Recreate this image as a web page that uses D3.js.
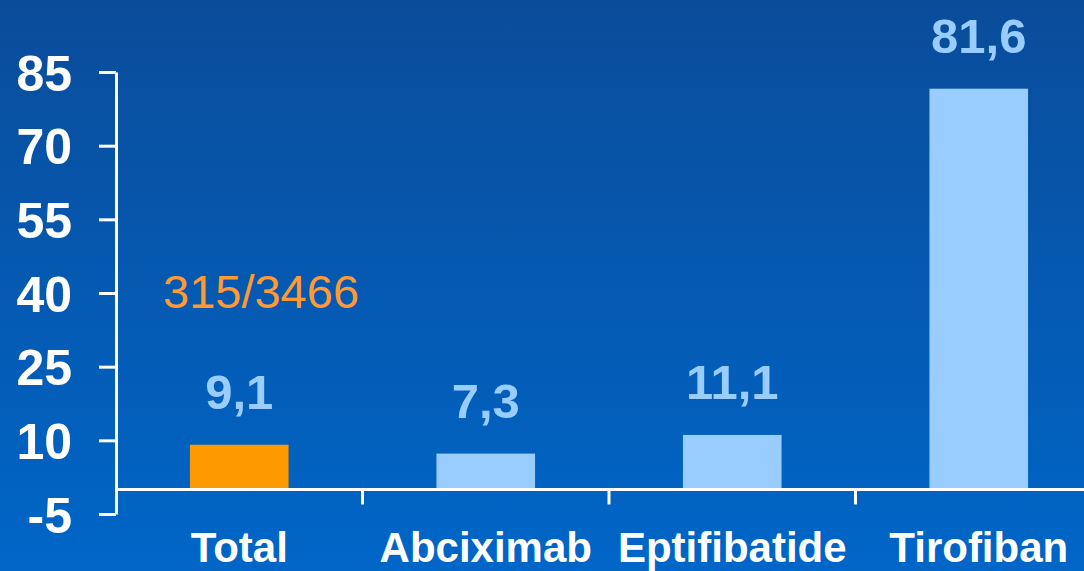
<!DOCTYPE html>
<html>
<head>
<meta charset="utf-8">
<script src="https://cdn.jsdelivr.net/npm/d3@7"></script>
<style>
  html, body { margin: 0; padding: 0; overflow: hidden; }
  svg { display: block; font-family: "Liberation Sans", Arial, sans-serif; }
</style>
</head>
<body>
<svg id="chart" width="1084" height="571"></svg>
<script>
// chart data
const categories = ['Total', 'Abciximab', 'Eptifibatide', 'Tirofiban'];
const values = [9.1, 7.3, 11.1, 81.6];
const valueLabels = ['9,1', '7,3', '11,1', '81,6'];
const yTicks = [-5, 10, 25, 40, 55, 70, 85];
const note = '315/3466';

const width = 1084;
const height = 571;

const svg = d3.select('#chart');

// background gradient
const defs = svg.append('defs');
const grad = defs.append('linearGradient')
  .attr('id', 'bg')
  .attr('x1', 0).attr('y1', 0)
  .attr('x2', 0).attr('y2', 1);
grad.append('stop').attr('offset', '0%').attr('stop-color', '#0a4c9a');
grad.append('stop').attr('offset', '100%').attr('stop-color', '#0066c8');

svg.append('rect')
  .attr('width', width)
  .attr('height', height)
  .attr('fill', 'url(#bg)');

// scales
const x = d3.scaleBand()
  .domain(categories)
  .range([116, 1102])
  .paddingInner(0.6)
  .paddingOuter(0.3);

const y = d3.scaleLinear()
  .domain([-5, 85])
  .range([514, 72]);

// y axis
const yAxis = svg.append('g')
  .attr('transform', 'translate(116,0)')
  .call(d3.axisLeft(y)
    .tickValues(yTicks)
    .tickSize(17)
    .tickSizeOuter(0)
    .tickPadding(27)
    .tickFormat(d => d));

yAxis.select('.domain').attr('stroke', '#fff').attr('stroke-width', 3);
yAxis.selectAll('.tick line').attr('stroke', '#fff').attr('stroke-width', 3);
yAxis.selectAll('.tick text')
  .attr('fill', '#fff')
  .attr('font-size', 50)
  .attr('font-weight', 'bold')
  .attr('font-family', '"Liberation Sans", Arial, sans-serif')
  .attr('dy', '0.36em');

// bars
svg.append('g')
  .selectAll('rect')
  .data(categories)
  .join('rect')
  .attr('x', d => x(d))
  .attr('width', x.bandwidth())
  .attr('y', (d, i) => y(values[i]))
  .attr('height', (d, i) => y(0) - y(values[i]))
  .attr('fill', (d, i) => i === 0 ? '#ff9900' : '#99ccff');

// x axis line at zero
const x0 = y(0);
svg.append('line')
  .attr('x1', 116)
  .attr('x2', width)
  .attr('y1', x0)
  .attr('y2', x0)
  .attr('stroke', '#fff')
  .attr('stroke-width', 3);

// category separator ticks
svg.append('g')
  .selectAll('line')
  .data(categories.slice(1))
  .join('line')
  .attr('x1', d => x(d) - x.step() * x.paddingInner() / 2)
  .attr('x2', d => x(d) - x.step() * x.paddingInner() / 2)
  .attr('y1', x0)
  .attr('y2', x0 + 15)
  .attr('stroke', '#fff')
  .attr('stroke-width', 3);

// category labels
const xAxis = svg.append('g')
  .attr('transform', `translate(0,${x0})`)
  .call(d3.axisBottom(x).tickSize(0).tickSizeOuter(0));

xAxis.select('.domain').remove();
xAxis.selectAll('.tick text')
  .attr('y', 73)
  .attr('dy', 0)
  .attr('fill', '#fff')
  .attr('font-size', 42)
  .attr('font-weight', 'bold')
  .attr('font-family', '"Liberation Sans", Arial, sans-serif');

// value labels
svg.append('g')
  .selectAll('text')
  .data(categories)
  .join('text')
  .attr('x', d => x(d) + x.bandwidth() / 2)
  .attr('y', (d, i) => y(values[i]) - 36)
  .attr('text-anchor', 'middle')
  .attr('fill', '#99ccff')
  .attr('font-size', 49)
  .attr('font-weight', 'bold')
  .text((d, i) => valueLabels[i]);

// count note above Total
svg.append('text')
  .attr('x', 163)
  .attr('y', 308)
  .attr('fill', '#ff9933')
  .attr('font-size', 47)
  .text(note);
</script>
</body>
</html>
